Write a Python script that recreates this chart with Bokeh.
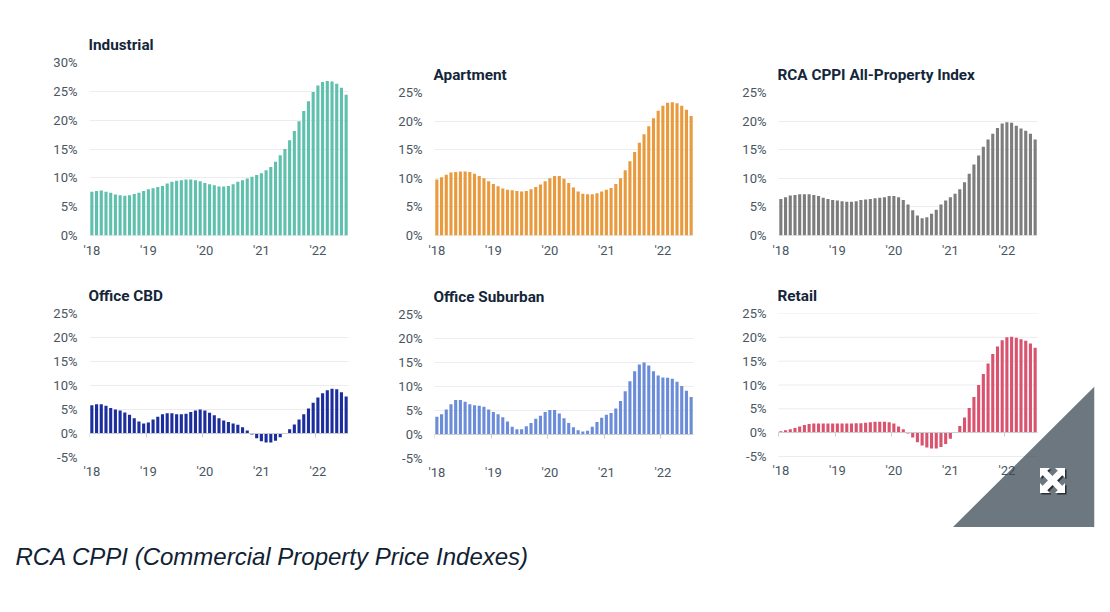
from bokeh.plotting import figure
from bokeh.layouts import column, row
from bokeh.models import LinearAxis, FixedTicker, Range1d, PolyAnnotation, Label
from bokeh.embed import file_html
from bokeh.resources import INLINE

year_labels = ["'18", "'19", "'20", "'21", "'22"]

industrial = [7.6,7.7,7.8,7.6,7.4,7.1,7.0,6.9,7.0,7.2,7.4,7.7,
              8.0,8.2,8.4,8.6,9.0,9.3,9.5,9.6,9.7,9.7,9.6,9.4,
              9.1,8.9,8.7,8.5,8.5,8.6,8.9,9.3,9.6,9.9,10.2,10.5,
              10.8,11.3,11.9,12.8,13.9,15.0,16.5,18.1,19.8,21.6,23.3,24.9,
              26.0,26.6,26.8,26.7,26.3,25.6,24.4]
apartment = [9.8,10.2,10.6,11.0,11.1,11.2,11.2,11.1,10.8,10.4,10.0,9.5,
             9.0,8.6,8.2,8.0,7.9,7.8,7.7,7.8,8.1,8.5,8.9,9.5,
             10.0,10.4,10.4,9.9,9.2,8.4,7.7,7.3,7.2,7.2,7.4,7.7,
             8.0,8.3,9.0,10.0,11.4,13.0,14.6,16.2,17.7,19.1,20.5,21.8,
             22.7,23.2,23.3,23.1,22.7,22.0,20.9]
all_property = [6.4,6.7,7.0,7.1,7.2,7.2,7.2,7.1,6.9,6.6,6.4,6.2,
                6.1,6.0,5.9,5.9,6.0,6.2,6.3,6.4,6.5,6.6,6.7,6.9,
                6.9,6.7,6.2,5.4,4.4,3.5,3.0,3.2,3.8,4.5,5.4,6.1,
                6.7,7.3,8.1,9.3,10.8,12.4,14.0,15.5,16.8,17.8,18.8,19.6,
                19.8,19.7,19.2,18.7,18.3,17.8,16.8]
office_cbd = [5.9,6.1,6.1,5.8,5.3,5.0,4.8,4.4,3.9,3.2,2.5,2.1,
              2.3,2.9,3.5,4.0,4.2,4.2,4.0,4.0,4.1,4.5,4.8,5.0,
              4.8,4.3,3.8,3.2,2.7,2.4,2.1,1.8,1.3,0.6,-0.2,-1.0,
              -1.6,-1.9,-1.9,-1.5,-0.8,-0.1,0.9,1.9,2.9,4.0,5.2,6.4,
              7.5,8.4,9.0,9.3,9.2,8.6,7.7]
office_suburban = [3.7,4.2,5.2,6.3,7.2,7.2,6.8,6.3,6.1,6.0,5.8,5.2,
                   4.7,4.2,3.6,2.7,1.6,1.1,1.1,1.7,2.4,3.3,3.9,4.7,
                   5.1,5.1,4.4,3.4,2.4,1.5,0.9,0.6,0.8,1.6,2.6,3.5,
                   4.1,4.5,5.4,7.0,9.0,11.1,13.2,14.6,15.0,14.4,13.2,12.3,
                   11.9,11.8,11.6,11.0,10.1,9.1,7.8]
retail = [0.3,0.5,0.7,1.0,1.3,1.6,1.8,1.9,1.9,1.9,1.9,1.9,
          1.9,1.9,1.9,1.9,2.0,2.0,2.1,2.2,2.3,2.3,2.3,2.2,
          1.9,1.3,0.7,-0.2,-1.0,-2.0,-2.7,-3.1,-3.3,-3.3,-3.0,-2.4,
          -1.3,0.0,1.4,3.2,5.2,7.5,10.0,12.3,14.5,16.5,18.1,19.4,
          20.0,20.1,19.9,19.6,19.3,18.7,17.8]

TEXT = "#4a5561"
TITLE = "#14263a"
GRID = "#ececee"
AXIS = "#c9ced3"
FONT = "Roboto"


def chart(title, values, color, ymin, ymax, left, top, frame_w, frame_h, right, bottom, std,
          extra_l=0, extra_w=0, extra_h=0):
    """extra_* widen the frame past the plot area, so that the corner badge and labels can be drawn in it."""
    n = len(values)
    px_x = n / frame_w
    px_y = (ymax - ymin) / frame_h
    p = figure(width=left + frame_w + extra_w + right, height=top + frame_h + extra_h + bottom,
               frame_width=frame_w + extra_l + extra_w, frame_height=frame_h + extra_h, frame_align=False,
               min_border_left=left - extra_l, min_border_right=right,
               min_border_top=top, min_border_bottom=bottom,
               x_range=Range1d(-extra_l * px_x, n + extra_w * px_x),
               y_range=Range1d(ymin - extra_h * px_y, ymax),
               x_axis_type=None, y_axis_location="left",
               output_backend="svg", toolbar_location=None, outline_line_color=None,
               background_fill_color=None, border_fill_color=None)
    p.title.text = title
    p.title.text_font = FONT
    p.title.text_font_size = "15.3px"
    p.title.text_font_style = "bold"
    p.title.text_color = TITLE
    p.title.align = "left"
    p.title.offset = extra_l - 1
    p.title.standoff = 18

    yticks = list(range(ymin, ymax + 1, 5))
    ya = p.yaxis[0]
    ya.ticker = FixedTicker(ticks=yticks)
    ya.major_label_overrides = {t: f"{t}%" for t in yticks}
    ya.axis_line_color = None
    ya.major_tick_line_color = None
    ya.minor_tick_line_color = None
    ya.major_tick_out = 0
    ya.major_label_standoff = 12 - extra_l
    ya.major_label_text_font = FONT
    ya.major_label_text_font_size = "13px"
    ya.major_label_text_color = TEXT

    p.xgrid.visible = False
    if extra_w or extra_h:
        p.ygrid.visible = False
        p.segment(x0=[0] * len(yticks), x1=[n] * len(yticks), y0=yticks, y1=yticks,
                  line_color=GRID, line_width=1, level="underlay")
    else:
        p.ygrid.ticker = FixedTicker(ticks=yticks)
        p.ygrid.grid_line_color = GRID
        p.ygrid.grid_line_width = 1

    xs = [i + 0.5 for i in range(n)]
    p.vbar(x=xs, top=values, bottom=0, width=0.66, fill_color=color, line_color=None)

    year_pos = [12 * i for i in range(len(year_labels))]
    zero = LinearAxis(fixed_location=0, bounds=(0, n), ticker=FixedTicker(ticks=year_pos),
                      major_label_text_font_size="0px", major_tick_in=0, major_tick_out=4,
                      minor_tick_line_color=None, axis_line_color=AXIS,
                      major_tick_line_color=AXIS, major_label_standoff=0)
    zero.major_label_overrides = {t: "" for t in year_pos}
    p.add_layout(zero, "below")

    label_pos = [t + 0.5 for t in year_pos]
    lab = LinearAxis(ticker=FixedTicker(ticks=label_pos),
                     major_label_overrides=dict(zip(label_pos, year_labels)),
                     axis_line_color=None, major_tick_line_color=None,
                     minor_tick_line_color=None, major_tick_in=0, major_tick_out=0,
                     major_label_standoff=std, major_label_text_font=FONT,
                     major_label_text_font_size="13px", major_label_text_color=TEXT)
    if extra_h:
        lab.fixed_location = ymin
    p.add_layout(lab, "below")
    return p


p1 = chart("Industrial", industrial, "#5fc0ad", 0, 30, 89, 62, 259, 173, 22, 35, 7)
p2 = chart("Apartment", apartment, "#e89a3c", 0, 25, 64, 92, 259, 143, 22, 35, 7)
p3 = chart("RCA CPPI All-Property Index", all_property, "#7d7d7d", 0, 25, 63, 92, 259, 143, 65, 35, 7)
p4 = chart("Office CBD", office_cbd, "#1c2e9e", -5, 25, 89, 43, 259, 144, 22, 70, 6)
p5 = chart("Office Suburban", office_suburban, "#6a8cd9", -5, 25, 64, 44, 259, 144, 22, 69, 6)
p6 = chart("Retail", retail, "#d9536f", -5, 25, 63, 43, 259, 143, 8, 0, 6, extra_l=12, extra_w=57, extra_h=71)

# Corner badge of the page, in canvas pixels of the last figure
p6.add_layout(PolyAnnotation(xs=[237, 379, 379], ys=[257, 257, 116], xs_units="canvas", ys_units="canvas",
                             fill_color="#3b4a54", fill_alpha=0.75, line_color=None, level="overlay"))
icon = [(-12.5,-12.5),(-2.5,-12.5),(-5.2,-9.8),(0,-4.6),(5.2,-9.8),(2.5,-12.5),(12.5,-12.5),(12.5,-2.5),(9.8,-5.2),(4.6,0),
        (9.8,5.2),(12.5,2.5),(12.5,12.5),(2.5,12.5),(5.2,9.8),(0,4.6),(-5.2,9.8),(-2.5,12.5),(-12.5,12.5),(-12.5,2.5),
        (-9.8,5.2),(-4.6,0),(-9.8,-5.2),(-12.5,-2.5)]
for dx, col in ((1.5, "#2a2f33"), (0, "#ffffff")):
    p6.add_layout(PolyAnnotation(xs=[337 + a + dx for a, b in icon], ys=[210 + b + dx for a, b in icon],
                                 xs_units="canvas", ys_units="canvas", fill_color=col, fill_alpha=1,
                                 line_color=None, level="overlay"))

cap = figure(width=1094, height=70, x_axis_type=None, y_axis_type=None, x_range=Range1d(0, 1), y_range=Range1d(0, 1),
             output_backend="svg", toolbar_location=None, outline_line_color=None, min_border=0,
             border_fill_color=None)
cap.xgrid.visible = False
cap.ygrid.visible = False
cap.add_layout(Label(x=15, y=29, x_units="canvas", y_units="canvas",
                     text="RCA CPPI (Commercial Property Price Indexes)",
                     text_font="Liberation Sans", text_font_style="italic", text_font_size="24px",
                     text_color="#0f2233", text_baseline="middle", text_align="left"))

page = column(row(p1, p2, p3, spacing=0), row(p4, p5, p6, spacing=0), cap, spacing=0)
open("out.html", "w").write(file_html(page, INLINE))
